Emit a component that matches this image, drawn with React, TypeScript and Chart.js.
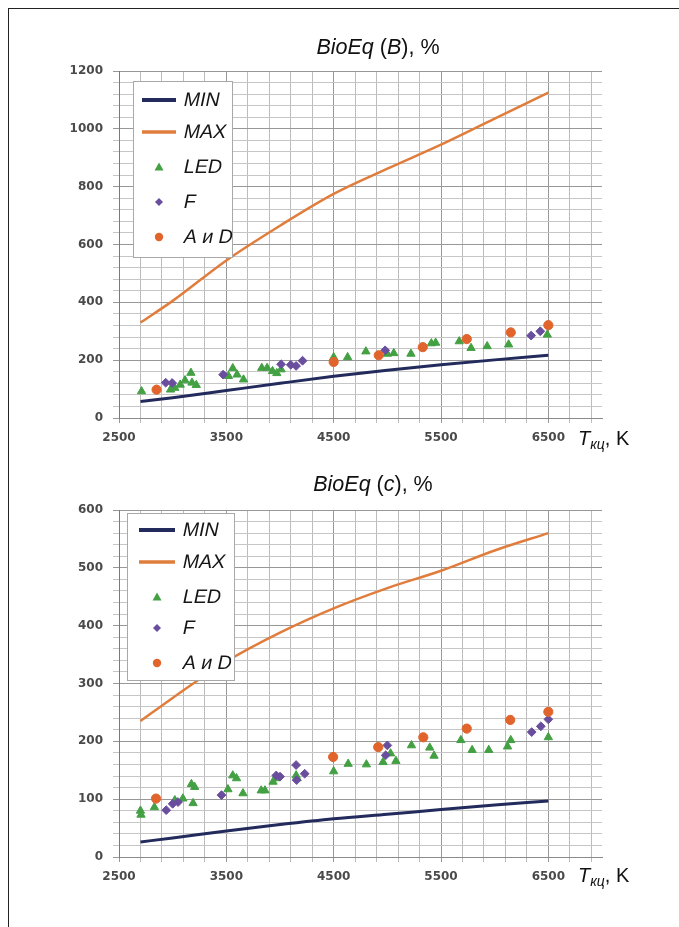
import React, { useEffect, useRef } from "react";
import { Chart, registerables } from "chart.js";

Chart.register(...registerables);

// ---------------- data ----------------
const LINE_T = [2700, 3000, 3500, 4000, 4500, 5000, 5500, 6000, 6500];

// BioEq (B), %
const MIN_B = [57, 70, 95, 120, 144, 165, 184, 201, 217];
const MAX_B = [330, 405, 545, 665, 775, 862, 945, 1035, 1125];
const LED_B_T = [2710, 2980, 3020, 3070, 3115, 3170, 3180, 3220, 3520, 3560, 3600, 3660, 3830, 3880, 3930, 3970, 4010, 4500, 4630, 4800, 5000, 5060, 5220, 5410, 5450, 5670, 5780, 5930, 6130, 6490];
const LED_B_V = [92, 98, 104, 115, 130, 156, 122, 114, 145, 172, 150, 133, 173, 173, 162, 155, 168, 210, 210, 230, 222, 224, 222, 258, 260, 265, 242, 248, 254, 288];
const F_B_T = [2935, 2995, 3470, 4010, 4100, 4150, 4210, 4980, 6340, 6425];
const F_B_V = [122, 121, 150, 186, 184, 180, 198, 234, 285, 300];
const AD_B_T = [2850, 4500, 4920, 5330, 5740, 6150, 6500];
const AD_B_V = [98, 194, 217, 245, 273, 296, 321];

// BioEq (c), %
const MIN_C = [26, 33, 45, 56, 66, 74, 82, 90, 97];
const MAX_C = [235, 275, 338, 388, 430, 465, 495, 530, 560];
const LED_C_T = [2700, 2705, 2830, 3020, 3095, 3175, 3190, 3205, 3515, 3560, 3595, 3655, 3825, 3860, 3935, 3965, 4150, 4160, 4500, 4635, 4805, 4960, 5030, 5080, 5225, 5395, 5435, 5685, 5790, 5945, 6120, 6150, 6500];
const LED_C_V = [80, 73, 86, 98, 101, 126, 93, 121, 117, 141, 136, 110, 115, 115, 130, 136, 141, 136, 148, 161, 160, 164, 179, 166, 193, 189, 175, 202, 185, 185, 191, 202, 207];
const F_C_T = [2940, 3000, 3050, 3455, 3965, 4000, 4150, 4155, 4230, 4985, 5000, 6345, 6430, 6500];
const F_C_V = [81, 92, 95, 107, 141, 139, 159, 133, 144, 176, 193, 216, 226, 238];
const AD_C_T = [2845, 4495, 4915, 5335, 5740, 6145, 6500];
const AD_C_V = [101, 173, 190, 207, 222, 237, 251];

// tick labels
const X_LABELS = [2500, 3500, 4500, 5500, 6500];
const Y_LABELS_B = [0, 200, 400, 600, 800, 1000, 1200];
const Y_LABELS_C = [0, 100, 200, 300, 400, 500, 600];
const SERIES_NAMES = ["MIN", "MAX", "LED", "F", "A и D"];

// ---------------- styles ----------------
const NAVY = "#232a5c";
const ORANGE_LINE = "#e07d3c";
const GREEN = "#43a043";
const PURPLE = "#6a4e9e";
const ORANGE_PT = "#e0642c";
const GRID_MINOR = "#c6c6c6";
const GRID_MAJOR = "#989898";
const TICK_FONT = { family: "DejaVu Sans", size: 12, weight: "bold" as const };
const TICK_COLOR = "#4a4a4a";

type Pt = { x: number; y: number };
const zip = (xs: number[], ys: number[]): Pt[] => xs.map((x, i) => ({ x, y: ys[i] }));

function range(a: number, b: number, step: number): number[] {
  const out: number[] = [];
  for (let v = a; v <= b + 1e-9; v += step) out.push(v);
  return out;
}

type LegendGeom = {
  box: [number, number, number, number];
  itemsY: number[];
  lineX: [number, number];
  markerX: number;
  textX: number;
};

function makeLegendPlugin(g: LegendGeom) {
  return {
    id: "boxLegend",
    afterDraw(chart: any) {
      const ctx: CanvasRenderingContext2D = chart.ctx;
      ctx.save();
      const [bx, by, bw, bh] = g.box;
      ctx.fillStyle = "#ffffff";
      ctx.fillRect(bx, by, bw, bh);
      ctx.strokeStyle = "#a8a8a8";
      ctx.lineWidth = 1;
      ctx.strokeRect(bx + 0.5, by + 0.5, bw, bh);
      SERIES_NAMES.forEach((name, i) => {
        const y = g.itemsY[i];
        if (i === 0 || i === 1) {
          ctx.strokeStyle = i === 0 ? NAVY : ORANGE_LINE;
          ctx.lineWidth = i === 0 ? 4 : 3.5;
          ctx.beginPath();
          ctx.moveTo(g.lineX[0], y);
          ctx.lineTo(g.lineX[1], y);
          ctx.stroke();
        } else if (i === 2) {
          ctx.fillStyle = GREEN;
          ctx.beginPath();
          ctx.moveTo(g.markerX, y - 4.5);
          ctx.lineTo(g.markerX + 4.5, y + 3.5);
          ctx.lineTo(g.markerX - 4.5, y + 3.5);
          ctx.closePath();
          ctx.fill();
        } else if (i === 3) {
          ctx.fillStyle = PURPLE;
          ctx.beginPath();
          ctx.moveTo(g.markerX, y - 4);
          ctx.lineTo(g.markerX + 4, y);
          ctx.lineTo(g.markerX, y + 4);
          ctx.lineTo(g.markerX - 4, y);
          ctx.closePath();
          ctx.fill();
        } else {
          ctx.fillStyle = ORANGE_PT;
          ctx.beginPath();
          ctx.arc(g.markerX, y, 4.2, 0, Math.PI * 2);
          ctx.fill();
        }
        // oblique (slanted upright) text so that Cyrillic "и" keeps its shape
        ctx.save();
        ctx.translate(g.textX, y + 1);
        ctx.transform(1, 0, -0.21, 1, 0, 0);
        ctx.fillStyle = "#151515";
        ctx.font = "19.5px 'Liberation Sans', Arial, sans-serif";
        ctx.textBaseline = "middle";
        ctx.textAlign = "left";
        ctx.fillText(name, 0, 0);
        ctx.restore();
      });
      ctx.restore();
    },
  };
}

type ChartSpec = {
  minV: number[];
  maxV: number[];
  ledT: number[];
  ledV: number[];
  fT: number[];
  fV: number[];
  adT: number[];
  adV: number[];
  yMax: number;
  yMinorStep: number;
  yLabels: number[];
  padTop: number;
  padBottom: number;
  legend: LegendGeom;
};

function buildConfig(s: ChartSpec): any {
  const xTicks = range(2500, 6900, 200);
  const yTicks = range(0, s.yMax, s.yMinorStep);
  const xMajor = new Set(X_LABELS);
  const yMajor = new Set(s.yLabels);
  return {
    type: "scatter",
    data: {
      datasets: [
        {
          label: SERIES_NAMES[0],
          data: zip(LINE_T, s.minV),
          showLine: true,
          borderColor: NAVY,
          backgroundColor: NAVY,
          borderWidth: 3,
          pointRadius: 0,
          cubicInterpolationMode: "monotone",
          order: 5,
        },
        {
          label: SERIES_NAMES[1],
          data: zip(LINE_T, s.maxV),
          showLine: true,
          borderColor: ORANGE_LINE,
          backgroundColor: ORANGE_LINE,
          borderWidth: 2.5,
          pointRadius: 0,
          cubicInterpolationMode: "monotone",
          order: 4,
        },
        {
          label: SERIES_NAMES[2],
          data: zip(s.ledT, s.ledV),
          pointStyle: "triangle",
          pointRadius: 4.8,
          backgroundColor: GREEN,
          borderColor: GREEN,
          borderWidth: 1,
          order: 3,
        },
        {
          label: SERIES_NAMES[3],
          data: zip(s.fT, s.fV),
          pointStyle: "rectRot",
          pointRadius: 4.4,
          backgroundColor: PURPLE,
          borderColor: PURPLE,
          borderWidth: 1,
          order: 2,
        },
        {
          label: SERIES_NAMES[4],
          data: zip(s.adT, s.adV),
          pointStyle: "circle",
          pointRadius: 4.6,
          backgroundColor: ORANGE_PT,
          borderColor: ORANGE_PT,
          borderWidth: 1,
          order: 1,
        },
      ],
    },
    options: {
      responsive: false,
      animation: false,
      devicePixelRatio: 1,
      events: [],
      layout: { padding: { left: 0, top: s.padTop, right: 77, bottom: s.padBottom } },
      plugins: {
        legend: { display: false },
        tooltip: { enabled: false },
        title: { display: false },
      },
      scales: {
        x: {
          type: "linear",
          min: 2500,
          max: 7000,
          afterBuildTicks: (sc: any) => {
            sc.ticks = xTicks.map((v) => ({ value: v }));
          },
          afterFit: (sc: any) => {
            sc.height = 30;
          },
          ticks: {
            autoSkip: false,
            maxRotation: 0,
            padding: 8,
            font: TICK_FONT,
            color: TICK_COLOR,
            callback: (v: number) => (xMajor.has(v) ? String(v) : ""),
          },
          grid: {
            color: (c: any) => (c.tick && xMajor.has(c.tick.value) ? GRID_MAJOR : "#bcbcbc"),
            lineWidth: 1,
            tickLength: 5,
          },
          border: { display: true, color: "#8a8a8a", width: 1 },
        },
        y: {
          type: "linear",
          min: 0,
          max: s.yMax,
          afterBuildTicks: (sc: any) => {
            sc.ticks = yTicks.map((v) => ({ value: v }));
          },
          afterFit: (sc: any) => {
            sc.width = 119;
          },
          ticks: {
            autoSkip: false,
            padding: 10,
            font: TICK_FONT,
            color: TICK_COLOR,
            callback: (v: number) => (yMajor.has(v) ? String(v) : ""),
          },
          grid: {
            color: (c: any) => (c.tick && yMajor.has(c.tick.value) ? GRID_MAJOR : GRID_MINOR),
            lineWidth: 1,
            tickLength: 6,
          },
          border: { display: true, color: "#7a7a7a", width: 1 },
        },
      },
    },
    plugins: [makeLegendPlugin(s.legend)],
  };
}

const SPEC_B: ChartSpec = {
  minV: MIN_B,
  maxV: MAX_B,
  ledT: LED_B_T,
  ledV: LED_B_V,
  fT: F_B_T,
  fV: F_B_V,
  adT: AD_B_T,
  adV: AD_B_V,
  yMax: 1200,
  yMinorStep: 40,
  yLabels: Y_LABELS_B,
  padTop: 71,
  padBottom: 15,
  legend: {
    box: [133, 81, 99, 176],
    itemsY: [100, 132, 167, 202, 237],
    lineX: [142, 176],
    markerX: 159,
    textX: 184,
  },
};

const SPEC_C: ChartSpec = {
  minV: MIN_C,
  maxV: MAX_C,
  ledT: LED_C_T,
  ledV: LED_C_V,
  fT: F_C_T,
  fV: F_C_V,
  adT: AD_C_T,
  adV: AD_C_V,
  yMax: 600,
  yMinorStep: 20,
  yLabels: Y_LABELS_C,
  padTop: 47,
  padBottom: 40,
  legend: {
    box: [127, 50, 107, 167],
    itemsY: [67, 99, 134, 165, 200],
    lineX: [139, 175],
    markerX: 157,
    textX: 183,
  },
};

function ChartCanvas({ spec, top, height }: { spec: ChartSpec; top: number; height: number }) {
  const ref = useRef<HTMLCanvasElement | null>(null);
  useEffect(() => {
    if (!ref.current) return;
    const chart = new Chart(ref.current, buildConfig(spec));
    return () => chart.destroy();
  }, [spec]);
  return (
    <canvas
      ref={ref}
      width={679}
      height={height}
      style={{ position: "absolute", left: 0, top, width: 679, height }}
    />
  );
}

const textBase: React.CSSProperties = {
  position: "absolute",
  fontFamily: "'Liberation Sans', Arial, sans-serif",
  color: "#111",
  whiteSpace: "nowrap",
  lineHeight: "22px",
};

function Title({ letter, cx, top }: { letter: string; cx: number; top: number }) {
  return (
    <div style={{ ...textBase, left: cx, top, fontSize: 21.5, transform: "translateX(-50%)" }}>
      <i>BioEq</i> (<i>{letter}</i>), %
    </div>
  );
}

function AxisLabel({ left, top }: { left: number; top: number }) {
  return (
    <div style={{ ...textBase, left, top, fontSize: 20 }}>
      <i>T</i>
      <i style={{ fontSize: 14, position: "relative", top: 4 }}>кц</i>, K
    </div>
  );
}

export default function App() {
  return (
    <div
      style={{
        position: "absolute",
        left: 0,
        top: 0,
        width: 679,
        height: 927,
        overflow: "hidden",
        background: "#fff",
      }}
    >
      <div
        style={{
          position: "absolute",
          left: 8,
          top: 8,
          width: 720,
          height: 960,
          borderLeft: "1px solid #222",
          borderTop: "1px solid #222",
        }}
      />
      <ChartCanvas spec={SPEC_B} top={0} height={463} />
      <ChartCanvas spec={SPEC_C} top={463} height={464} />
      <Title letter="B" cx={378} top={36} />
      <Title letter="c" cx={373} top={473} />
      <AxisLabel left={578} top={427} />
      <AxisLabel left={578} top={864} />
    </div>
  );
}
